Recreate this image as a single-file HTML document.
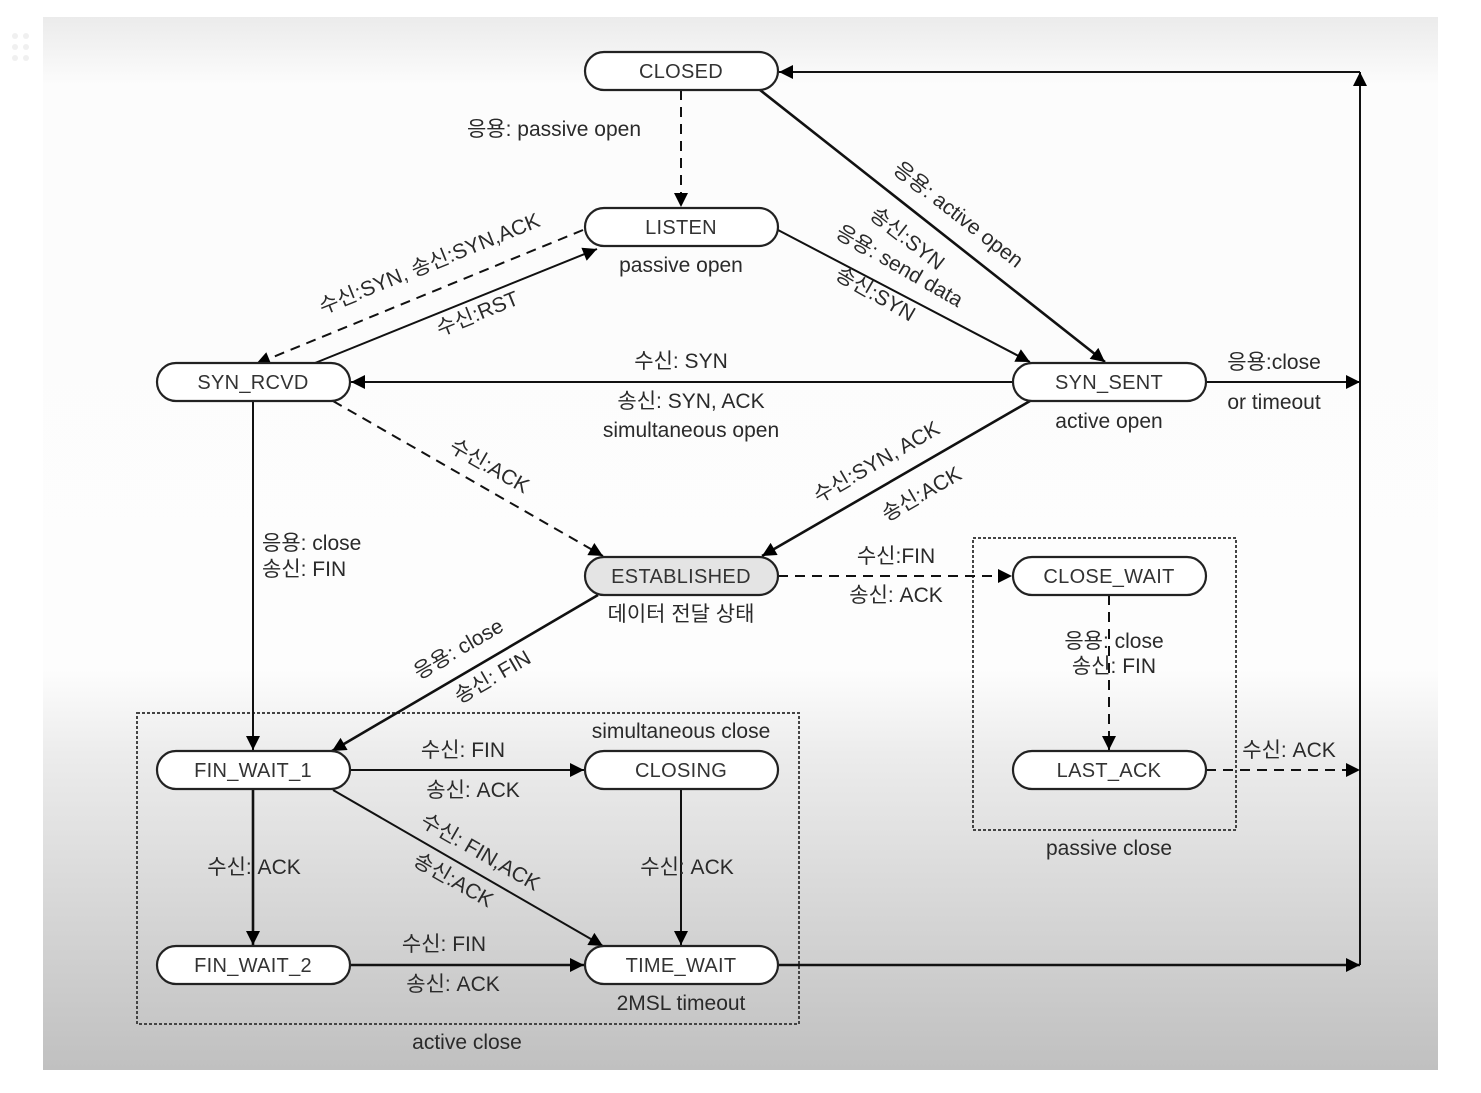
<!DOCTYPE html>
<html><head><meta charset="utf-8"><style>
html,body{margin:0;padding:0;background:#fff;}
svg{display:block;}
text{font-family:"Liberation Sans","Noto Sans CJK KR",sans-serif;font-size:21px;fill:#2a2a2a;}
.n text{font-size:20px;fill:#333;letter-spacing:0.3px;}
</style></head><body>
<svg width="1481" height="1093" viewBox="0 0 1481 1093" xmlns="http://www.w3.org/2000/svg">
<defs>
<linearGradient id="bg" x1="0" y1="0" x2="0" y2="1">
<stop offset="0" stop-color="#ebebeb"/>
<stop offset="0.065" stop-color="#fcfcfc"/>
<stop offset="0.62" stop-color="#fdfdfd"/>
<stop offset="0.7" stop-color="#ececec"/>
<stop offset="1" stop-color="#c0c0c0"/>
</linearGradient>
<marker id="a" viewBox="0 0 10 10" refX="10" refY="5" markerWidth="22" markerHeight="14" markerUnits="userSpaceOnUse" orient="auto">
<path d="M0,0 L10,5 L0,10 z" fill="#000"/></marker>
</defs>
<rect x="43" y="17" width="1395" height="1053" fill="url(#bg)"/>
<g fill="#f0f0f0"><circle cx="15" cy="36" r="3"/><circle cx="26" cy="36" r="3"/><circle cx="15" cy="47" r="3"/><circle cx="26" cy="47" r="3"/><circle cx="15" cy="58" r="3"/><circle cx="26" cy="58" r="3"/></g>

<rect x="137" y="713" width="662" height="311" fill="none" stroke="#444" stroke-width="2" stroke-dasharray="3,2"/>
<rect x="973" y="538" width="263" height="292" fill="none" stroke="#444" stroke-width="2" stroke-dasharray="3,2"/>

<g stroke="#111" fill="none" stroke-width="2">
<line x1="681" y1="90" x2="681" y2="207" stroke-dasharray="10,7" marker-end="url(#a)"/>
<line x1="760" y1="90" x2="1105" y2="362" stroke-width="2.6" marker-end="url(#a)"/>
<line x1="778" y1="230" x2="1030" y2="362" marker-end="url(#a)"/>
<line x1="583" y1="230" x2="256" y2="364" stroke-dasharray="10,7" marker-end="url(#a)"/>
<line x1="315" y1="363" x2="597" y2="249" marker-end="url(#a)"/>
<line x1="1013" y1="382" x2="351" y2="382" marker-end="url(#a)"/>
<line x1="1206" y1="382" x2="1360" y2="382" marker-end="url(#a)"/>
<line x1="1360" y1="965" x2="1360" y2="72" marker-end="url(#a)"/>
<line x1="1360" y1="72" x2="779" y2="72" marker-end="url(#a)"/>
<line x1="333" y1="401" x2="603" y2="556" stroke-dasharray="10,7" marker-end="url(#a)"/>
<line x1="1030" y1="401" x2="762" y2="556" stroke-width="2.6" marker-end="url(#a)"/>
<line x1="253" y1="401" x2="253" y2="750" marker-end="url(#a)"/>
<line x1="598" y1="595" x2="332" y2="751" stroke-width="2.6" marker-end="url(#a)"/>
<line x1="778" y1="576" x2="1012" y2="576" stroke-dasharray="10,7" marker-end="url(#a)"/>
<line x1="1109" y1="595" x2="1109" y2="750" stroke-dasharray="10,7" marker-end="url(#a)"/>
<line x1="1206" y1="770" x2="1360" y2="770" stroke-dasharray="10,7" marker-end="url(#a)"/>
<line x1="350" y1="770" x2="584" y2="770" marker-end="url(#a)"/>
<line x1="333" y1="790" x2="603" y2="946" marker-end="url(#a)"/>
<line x1="253" y1="790" x2="253" y2="945" stroke-width="2.6" marker-end="url(#a)"/>
<line x1="681" y1="790" x2="681" y2="945" marker-end="url(#a)"/>
<line x1="350" y1="965" x2="584" y2="965" stroke-width="2.6" marker-end="url(#a)"/>
<line x1="778" y1="965" x2="1360" y2="965" stroke-width="2.6" marker-end="url(#a)"/>
</g>

<g stroke="#222" stroke-width="2.2" fill="#fff">
<rect x="585" y="52" width="193" height="38" rx="19"/>
<rect x="585" y="208" width="193" height="38" rx="19"/>
<rect x="157" y="363" width="193" height="38" rx="19"/>
<rect x="1013" y="363" width="193" height="38" rx="19"/>
<rect x="585" y="557" width="193" height="38" rx="19" fill="#e4e4e4"/>
<rect x="1013" y="557" width="193" height="38" rx="19"/>
<rect x="1013" y="751" width="193" height="38" rx="19"/>
<rect x="157" y="751" width="193" height="38" rx="19"/>
<rect x="585" y="751" width="193" height="38" rx="19"/>
<rect x="157" y="946" width="193" height="38" rx="19"/>
<rect x="585" y="946" width="193" height="38" rx="19"/>
</g>
<g class="n" text-anchor="middle">
<text x="681" y="78">CLOSED</text>
<text x="681" y="234">LISTEN</text>
<text x="253" y="389">SYN_RCVD</text>
<text x="1109" y="389">SYN_SENT</text>
<text x="681" y="583">ESTABLISHED</text>
<text x="1109" y="583">CLOSE_WAIT</text>
<text x="1109" y="777">LAST_ACK</text>
<text x="253" y="777">FIN_WAIT_1</text>
<text x="681" y="777">CLOSING</text>
<text x="253" y="972">FIN_WAIT_2</text>
<text x="681" y="972">TIME_WAIT</text>
</g>

<g text-anchor="middle">
<text x="554" y="136">응용: passive open</text>
<text x="681" y="272">passive open</text>
<text x="681" y="368">수신: SYN</text>
<text x="691" y="408">송신: SYN, ACK</text>
<text x="691" y="437">simultaneous open</text>
<text x="1109" y="428">active open</text>
<text x="1274" y="369">응용:close</text>
<text x="1274" y="409">or timeout</text>
<text x="681" y="621">데이터 전달 상태</text>
<text x="896" y="563">수신:FIN</text>
<text x="896" y="602">송신: ACK</text>
<text x="1114" y="648">응용: close</text>
<text x="1114" y="673">송신: FIN</text>
<text x="1289" y="757">수신: ACK</text>
<text x="1109" y="855">passive close</text>
<text x="681" y="738">simultaneous close</text>
<text x="463" y="757">수신: FIN</text>
<text x="473" y="797">송신: ACK</text>
<text x="254" y="874">수신: ACK</text>
<text x="687" y="874">수신: ACK</text>
<text x="444" y="951">수신: FIN</text>
<text x="453" y="991">송신: ACK</text>
<text x="681" y="1010">2MSL timeout</text>
<text x="467" y="1049">active close</text>
</g>
<g text-anchor="start">
<text x="262" y="550">응용: close</text>
<text x="262" y="576">송신: FIN</text>
</g>
<g text-anchor="middle">
<text transform="translate(954,220) rotate(38)">응용: active open</text>
<text transform="translate(903,244) rotate(38)">송신:SYN</text>
<text transform="translate(896,272) rotate(30)">응용: send data</text>
<text transform="translate(872,300) rotate(30)">송신:SYN</text>
<text transform="translate(432,270) rotate(-22)">수신:SYN, 송신:SYN,ACK</text>
<text transform="translate(480,320) rotate(-22)">수신:RST</text>
<text transform="translate(486,472) rotate(30)">수신:ACK</text>
<text transform="translate(880,468) rotate(-30)">수신:SYN, ACK</text>
<text transform="translate(925,500) rotate(-30)">송신:ACK</text>
<text transform="translate(462,655) rotate(-30)">응용: close</text>
<text transform="translate(496,683) rotate(-30)">송신: FIN</text>
<text transform="translate(477,858) rotate(30)">수신: FIN,ACK</text>
<text transform="translate(450,886) rotate(30)">송신:ACK</text>
</g>
</svg>
</body></html>
